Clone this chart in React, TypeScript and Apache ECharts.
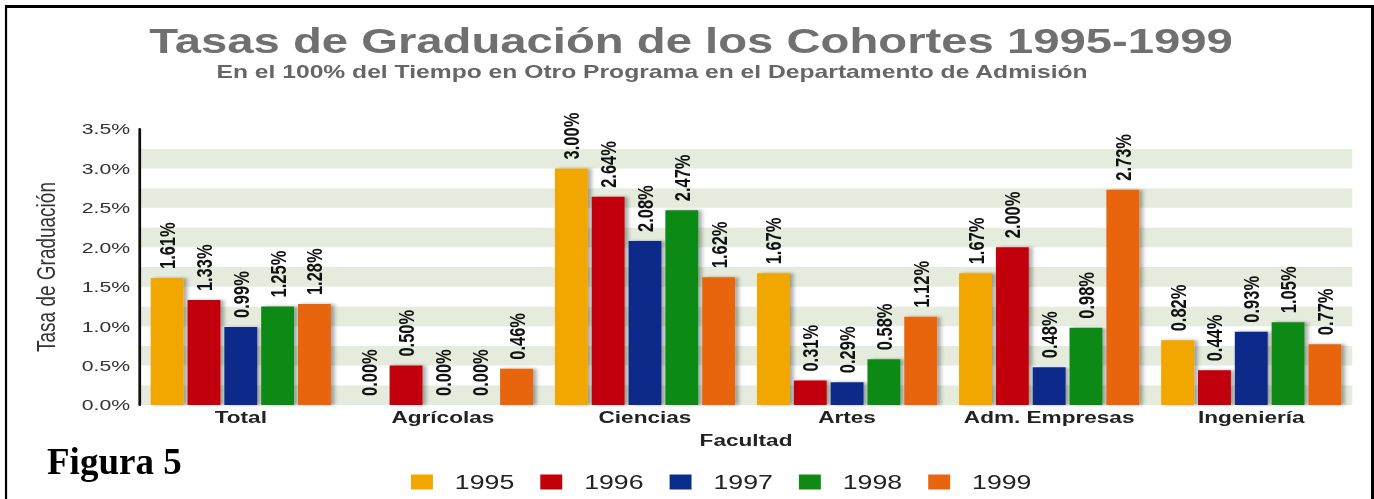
import React, { useEffect, useRef } from "react";
import * as echarts from "echarts";

// ---- data ----
const categories = ["Total", "Agrícolas", "Ciencias", "Artes", "Adm. Empresas", "Ingeniería"];
const years = ["1995", "1996", "1997", "1998", "1999"];
const v1995 = [1.61, 0.0, 3.0, 1.67, 1.67, 0.82];
const v1996 = [1.33, 0.5, 2.64, 0.31, 2.0, 0.44];
const v1997 = [0.99, 0.0, 2.08, 0.29, 0.48, 0.93];
const v1998 = [1.25, 0.0, 2.47, 0.58, 0.98, 1.05];
const v1999 = [1.28, 0.46, 1.62, 1.12, 2.73, 0.77];
const seriesValues = [v1995, v1996, v1997, v1998, v1999];
const colors = ["#F2A600", "#C20008", "#0A2C8A", "#0F8A12", "#E8650F"];
const yMin = 0;
const yMax = 3.5;
const yInterval = 0.5;
const bandInterval = 0.25;

const titleText = "Tasas de Graduación de los Cohortes 1995-1999";
const subtitleText = "En el 100% del Tiempo en Otro Programa en el Departamento de Admisión";
const yName = "Tasa de Graduación";
const xName = "Facultad";
const figureText = "Figura 5";

// horizontal stretch of the reference picture
const SX = 1.37;
const FULL_W = 1374;
const FULL_H = 499;
const W = FULL_W / SX;

const SANS = "'Liberation Sans', Arial, Helvetica, sans-serif";

export default function App() {
  const ref = useRef<HTMLDivElement>(null);

  useEffect(() => {
    if (!ref.current) return;
    const chart = echarts.init(ref.current, undefined, { renderer: "svg" });

    const series = years.map((y, i) => ({
      name: y,
      type: "bar",
      yAxisIndex: 0,
      data: seriesValues[i],
      barWidth: 24,
      barGap: "12%",
      itemStyle: {
        color: colors[i],
        shadowColor: "rgba(0,0,0,0.35)",
        shadowBlur: 3,
        shadowOffsetX: 2.5,
        shadowOffsetY: 0,
      },
      label: {
        show: true,
        position: "top",
        rotate: 90,
        align: "left",
        verticalAlign: "middle",
        distance: 9,
        fontFamily: SANS,
        fontWeight: "bold",
        fontSize: 16.5,
        color: "#111",
        formatter: (p: any) => Number(p.value).toFixed(2) + "%",
      },
    }));

    const option: any = {
      animation: false,
      backgroundColor: "#ffffff",
      title: [
        {
          text: titleText,
          left: 109,
          top: 23.7,
          padding: 0,
          textStyle: {
            fontFamily: SANS,
            fontWeight: "bold",
            fontSize: 34.5,
            color: "#707070",
          },
        },
        {
          text: subtitleText,
          left: 158,
          top: 62.6,
          padding: 0,
          textStyle: {
            fontFamily: SANS,
            fontWeight: "bold",
            fontSize: 18,
            color: "#666666",
          },
        },
      ],
      legend: {
        data: years,
        left: 295,
        top: 467,
        itemWidth: 16,
        itemHeight: 15,
        itemGap: 19,
        icon: "rect",
        textStyle: {
          fontFamily: SANS,
          fontSize: 19.5,
          color: "#222",
          padding: [0, 0, 0, 11],
        },
      },
      grid: {
        left: 102,
        right: W - 987,
        top: 129,
        bottom: FULL_H - 405,
        containLabel: false,
      },
      xAxis: {
        type: "category",
        data: categories,
        name: xName,
        nameLocation: "middle",
        nameGap: 27,
        nameTextStyle: {
          fontFamily: SANS,
          fontWeight: "bold",
          fontSize: 16.5,
          color: "#222",
        },
        axisLine: {
          show: true,
          lineStyle: {
            color: "#222",
            width: 3,
            shadowColor: "rgba(0,0,0,0.35)",
            shadowOffsetY: 2,
            shadowBlur: 2,
          },
        },
        axisTick: { show: false },
        axisLabel: {
          interval: 0,
          margin: 4,
          fontFamily: SANS,
          fontWeight: "bold",
          fontSize: 16.5,
          color: "#222",
        },
        splitLine: { show: false },
      },
      yAxis: [
        {
          type: "value",
          min: yMin,
          max: yMax,
          interval: yInterval,
          name: yName,
          nameLocation: "middle",
          nameGap: 59,
          nameTextStyle: {
            fontFamily: SANS,
            fontSize: 19,
            color: "#333",
          },
          axisLine: { show: true, lineStyle: { color: "#111", width: 2 } },
          axisTick: { show: false },
          axisLabel: {
            margin: 7,
            fontFamily: SANS,
            fontSize: 15.5,
            color: "#333",
            formatter: (v: number) => v.toFixed(1) + "%",
          },
          splitLine: { show: false },
          splitArea: { show: false },
          z: 3,
        },
        {
          type: "value",
          min: yMin,
          max: yMax,
          interval: bandInterval,
          position: "left",
          axisLine: { show: false },
          axisTick: { show: false },
          axisLabel: { show: false },
          splitLine: { show: false },
          splitArea: {
            show: true,
            areaStyle: { color: ["#e5ecdd", "#ffffff"] },
          },
        },
      ],
      graphic: [
        {
          type: "line",
          shape: { x1: 4.4, y1: 6.5, x2: W, y2: 6.5 },
          style: { stroke: "#000", lineWidth: 3 },
          z: 100,
        },
        {
          type: "line",
          shape: { x1: 4.4, y1: 5, x2: 4.4, y2: FULL_H },
          style: { stroke: "#000", lineWidth: 1.6 },
          z: 100,
        },
        {
          type: "line",
          shape: { x1: 1372.5 / SX, y1: 5, x2: 1372.5 / SX, y2: FULL_H },
          style: { stroke: "#000", lineWidth: 2.2 },
          z: 100,
        },
        {
          type: "text",
          x: 47 / SX,
          y: 462,
          scaleX: 1 / SX,
          scaleY: 1,
          style: {
            text: figureText,
            font: "bold 37px 'Liberation Serif', 'Times New Roman', serif",
            fill: "#000",
            textAlign: "left",
            textVerticalAlign: "middle",
          },
          z: 100,
        },
      ],
      series,
    };

    chart.setOption(option);
    return () => {
      chart.dispose();
    };
  }, []);

  return (
    <div
      style={{
        position: "absolute",
        left: 0,
        top: 0,
        width: FULL_W,
        height: FULL_H,
        overflow: "hidden",
        background: "#fff",
      }}
    >
      <div
        ref={ref}
        style={{
          width: W,
          height: FULL_H,
          transform: `scaleX(${SX})`,
          transformOrigin: "0 0",
        }}
      />
    </div>
  );
}
